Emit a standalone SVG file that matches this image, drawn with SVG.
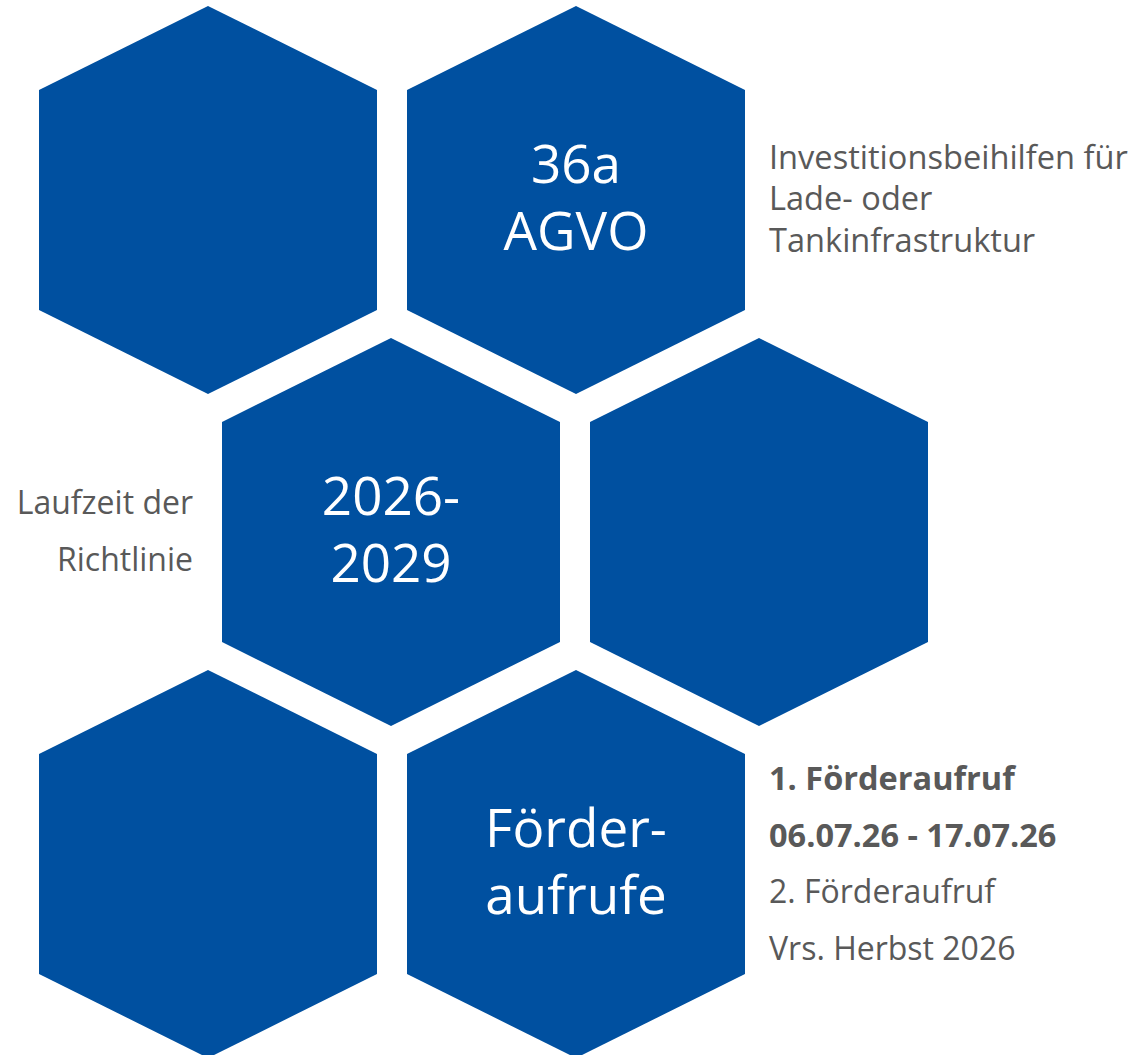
<svg xmlns="http://www.w3.org/2000/svg" width="1134" height="1055" viewBox="0 0 1134 1055">
<defs>
<style>
.hex{fill:#0050A0;}
.ht{font-family:"Open Sans","Noto Sans",sans-serif;font-size:53px;fill:#ffffff;text-anchor:middle;}
.gt{font-family:"Open Sans","Noto Sans",sans-serif;font-size:32px;fill:#595959;}
.big{font-size:32.6px;}
.b{font-weight:bold;font-size:32.5px;}
</style>
<polygon id="hexshape" points="169,0 338,84 338,304 169,388 0,304 0,84"/>
</defs>
<rect width="1134" height="1055" fill="#ffffff"/>
<g id="hex-r1c1"><use href="#hexshape" class="hex" x="39" y="6"/></g>
<g id="hex-r1c2"><use href="#hexshape" class="hex" x="407" y="6"/>
<text class="ht" x="576" y="183">36a</text>
<text class="ht" x="576" y="250">AGVO</text></g>
<g id="hex-r2c1"><use href="#hexshape" class="hex" x="222" y="338"/>
<text class="ht" x="391" y="515">2026-</text>
<text class="ht" x="391" y="582">2029</text></g>
<g id="hex-r2c2"><use href="#hexshape" class="hex" x="590" y="338"/></g>
<g id="hex-r3c1"><use href="#hexshape" class="hex" x="39" y="670"/></g>
<g id="hex-r3c2"><use href="#hexshape" class="hex" x="407" y="670"/>
<text class="ht" x="576" y="847">Förder-</text>
<text class="ht" x="576" y="914">aufrufe</text></g>
<g id="label-agvo">
<text class="gt big" x="769" y="169">Investitionsbeihilfen für</text>
<text class="gt big" x="769" y="210">Lade- oder</text>
<text class="gt big" x="769" y="252">Tankinfrastruktur</text>
</g>
<g id="label-laufzeit">
<text class="gt" x="193" y="514" text-anchor="end">Laufzeit der</text>
<text class="gt" x="193" y="571" text-anchor="end">Richtlinie</text>
</g>
<g id="label-aufrufe">
<text class="gt b" x="769" y="790">1. Förderaufruf</text>
<text class="gt b" x="769" y="847">06.07.26 - 17.07.26</text>
<text class="gt" x="769" y="903">2. Förderaufruf</text>
<text class="gt" x="769" y="960">Vrs. Herbst 2026</text>
</g>
<g id="connectors"></g>
</svg>
